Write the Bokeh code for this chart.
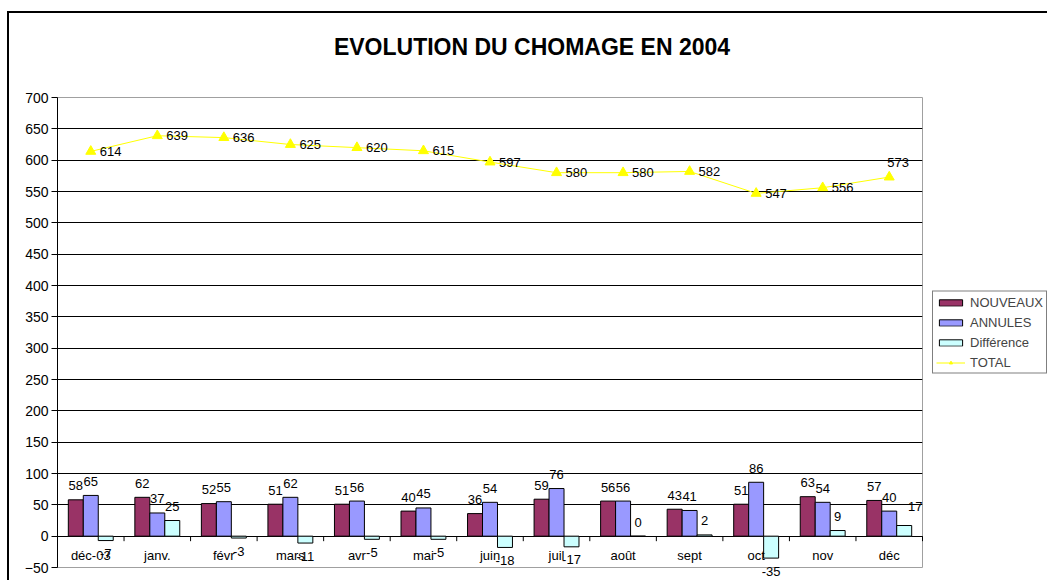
from bokeh.plotting import figure
from bokeh.models import (ColumnDataSource, FixedTicker, Legend, LegendItem, Range1d)
from bokeh.core.properties import value
from bokeh.transform import dodge
from bokeh.embed import file_html
from bokeh.resources import INLINE

# ---- data ----
categories = ["déc-03", "janv.", "févr", "mars", "avr", "mai", "juin",
              "juil", "août", "sept", "oct", "nov", "déc"]
nouveaux = [58, 62, 52, 51, 51, 40, 36, 59, 56, 43, 51, 63, 57]
annules = [65, 37, 55, 62, 56, 45, 54, 76, 56, 41, 86, 54, 40]
difference = [-7, 25, -3, -11, -5, -5, -18, -17, 0, 2, -35, 9, 17]
total = [614, 639, 636, 625, 620, 615, 597, 580, 580, 582, 547, 556, 573]
y_ticks = list(range(-50, 701, 50))
title_text = "EVOLUTION DU CHOMAGE EN 2004"
series_names = ["NOUVEAUX", "ANNULES", "Différence", "TOTAL"]

# ---- style ----
FONT = "Liberation Sans"
OX, OY = 9, 13            # where the chart's own border starts on the page
FW, FH = 865, 470         # plot area size
C_NOUV = "#993366"
C_ANN = "#9999FF"
C_DIFF = "#CCFFFF"
C_TOT = "#FFFF00"
BW = 0.225
LBL_OFF = 13
TICK_LEN = 8              # in y units (about 5 px)

n = len(categories)
xc = [i + 0.5 for i in range(n)]

def offs(vals):
    return [-LBL_OFF - 1 if v >= 0 else LBL_OFF for v in vals]

# labels of the last category are pushed back inside the plot area (as Excel does)
d_xoff = [0] * (n - 1) + [11]
d_yoff = offs(difference)
d_yoff[-1] -= 5
t_xoff = [9] * (n - 1) + [-2]
t_yoff = [0] * (n - 1) + [-15]
t_align = ["left"] * n

src = ColumnDataSource(dict(
    x=xc, cat=categories,
    nouveaux=nouveaux, annules=annules, difference=difference, total=total,
    n_lbl=[str(v) for v in nouveaux], a_lbl=[str(v) for v in annules],
    d_lbl=[str(v) for v in difference], t_lbl=[str(v) for v in total],
    n_off=offs(nouveaux), a_off=offs(annules), d_off=d_yoff, d_xoff=d_xoff,
    t_xoff=t_xoff, t_yoff=t_yoff,
))
bounds = list(range(n + 1))
tick_src = ColumnDataSource(dict(x=bounds, y0=[0] * len(bounds),
                                 y1=[-TICK_LEN] * len(bounds)))

p = figure(frame_width=FW, frame_height=FH, output_backend="svg", toolbar_location=None,
           x_range=Range1d(0, n), y_range=Range1d(y_ticks[0], y_ticks[-1]),
           x_axis_location=None,
           min_border_left=57 - OX, min_border_right=1047 - 922,
           min_border_top=97 - OY, min_border_bottom=580 - 567)
p.styles = {"border-top": "2px solid black", "border-left": "2px solid black",
            "margin-left": f"{OX - 2}px", "margin-top": f"{OY - 2}px"}
p.background_fill_color = "white"
p.border_fill_color = "white"
p.outline_line_color = "#a0a0a0"
p.outline_line_width = 1

# y axis
ya = p.yaxis[0]
ya.ticker = FixedTicker(ticks=y_ticks)
ya.major_tick_out = 6
ya.major_tick_in = 0
ya.minor_tick_line_color = None
ya.axis_line_color = "black"
ya.major_tick_line_color = "black"
ya.major_label_text_font = FONT
ya.major_label_text_font_size = "14px"
ya.major_label_text_color = "black"
ya.major_label_standoff = 3

p.ygrid.ticker = FixedTicker(ticks=[t for t in y_ticks if t >= 0])
p.ygrid.grid_line_color = "black"
p.ygrid.grid_line_width = 1
p.xgrid.visible = False

# category tick marks under the zero line
p.segment(x0="x", x1="x", y0="y0", y1="y1", source=tick_src,
          line_color="black", line_width=1, level="overlay")

# bars
r_n = p.vbar(x=dodge("x", -BW, range=p.x_range), top="nouveaux", width=BW, source=src,
             fill_color=C_NOUV, line_color="black", line_width=1)
r_a = p.vbar(x="x", top="annules", width=BW, source=src,
             fill_color=C_ANN, line_color="black", line_width=1)
r_d = p.vbar(x=dodge("x", BW, range=p.x_range), top="difference", width=BW, source=src,
             fill_color=C_DIFF, line_color="black", line_width=1)

# total line
r_tl = p.line(x="x", y="total", source=src, line_color=C_TOT, line_width=1)
r_tm = p.scatter(x="x", y="total", source=src, marker="triangle", size=10,
                 fill_color=C_TOT, line_color=C_TOT)

txt = dict(text_font=value(FONT), text_font_size="13px", text_color="black",
           text_baseline="middle", source=src, level="overlay")
p.text(x=dodge("x", -BW, range=p.x_range), y="nouveaux", text="n_lbl",
       y_offset="n_off", text_align="center", **txt)
p.text(x="x", y="annules", text="a_lbl", y_offset="a_off", text_align="center", **txt)
p.text(x=dodge("x", BW, range=p.x_range), y="difference", text="d_lbl",
       x_offset="d_xoff", y_offset="d_off", text_align="center", **txt)
p.text(x="x", y="total", text="t_lbl", x_offset="t_xoff", y_offset="t_yoff",
       text_align="left", **txt)

# category labels under the zero line
p.text(x="x", y=0, text="cat", y_offset=19, text_align="center", **txt)

# chart title, above the plot area (centred on the chart, not the plot area)
p.text(x=[n / 2], y=[y_ticks[-1]], text=[title_text], x_offset=42, y_offset=-51,
       text_align="center", text_baseline="middle", text_font=value(FONT),
       text_font_style="bold", text_font_size="23px", text_color="black",
       level="overlay")

legend = Legend(items=[
    LegendItem(label=series_names[0], renderers=[r_n]),
    LegendItem(label=series_names[1], renderers=[r_a]),
    LegendItem(label=series_names[2], renderers=[r_d]),
    LegendItem(label=series_names[3], renderers=[r_tl, r_tm]),
], location="left")
legend.label_text_font = FONT
legend.label_text_font_size = "13px"
legend.label_height = 14
legend.glyph_width = 29
legend.glyph_height = 8
legend.spacing = 5
legend.padding = 3
legend.margin = 10
legend.label_standoff = 5
legend.border_line_color = "black"
legend.border_line_width = 1
legend.background_fill_color = "white"
legend.background_fill_alpha = 1
p.add_layout(legend, "right")

open("out.html", "w").write(file_html(p, INLINE))
